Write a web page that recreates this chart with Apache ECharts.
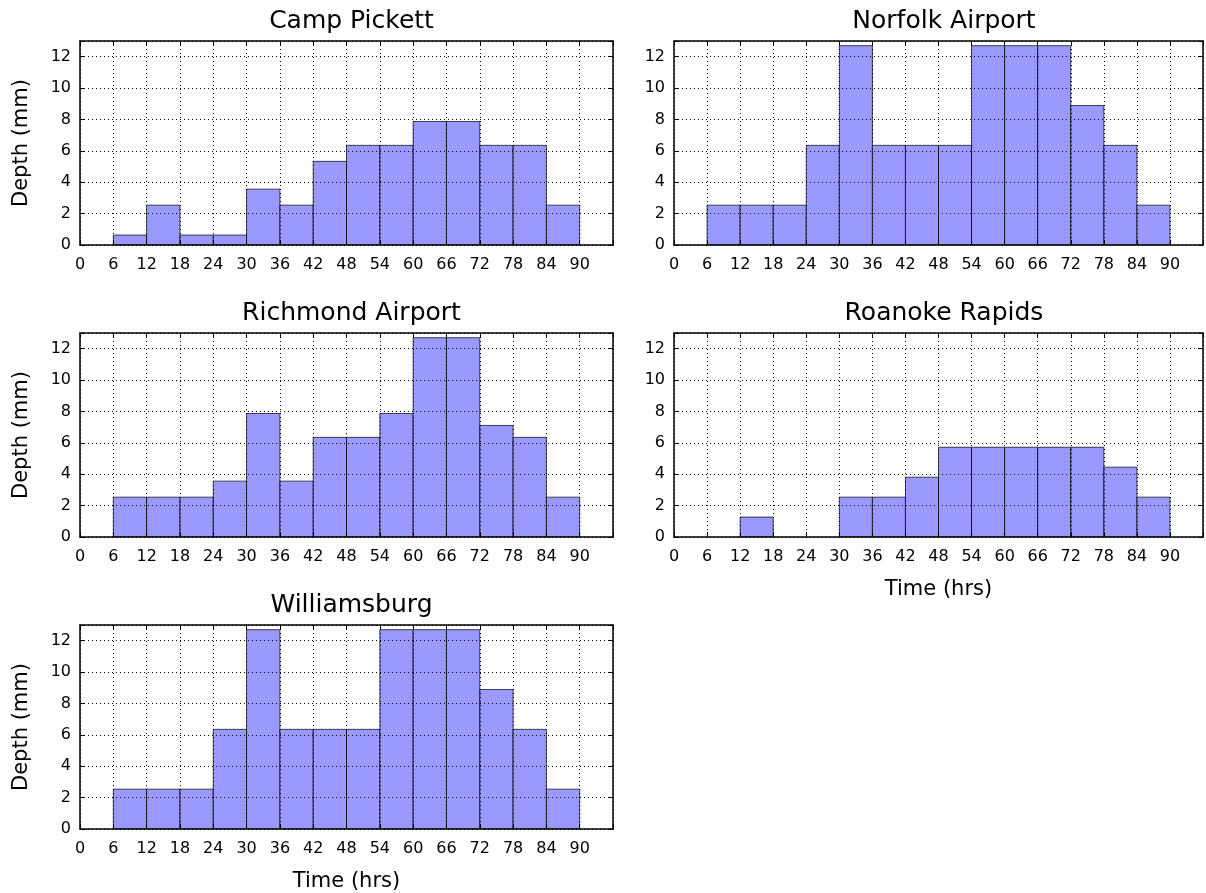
<!DOCTYPE html>
<html>
<head>
<meta charset="utf-8">
<script src="https://cdn.jsdelivr.net/npm/echarts@6/dist/echarts.min.js"></script>
<style>
html,body{margin:0;padding:0;background:#fff;}
#chart{width:1206px;height:893px;}
</style>
</head>
<body>
<div id="chart"></div>
<script>
// ---- data ----
var stations = ["Camp Pickett", "Norfolk Airport", "Richmond Airport", "Roanoke Rapids", "Williamsburg"];
var binEdges = [0, 6, 12, 18, 24, 30, 36, 42, 48, 54, 60, 66, 72, 78, 84, 90];
var campPickett     = [0, 0.635, 2.54, 0.635, 0.635, 3.56, 2.54, 5.33, 6.35, 6.35, 7.87, 7.87, 6.35, 6.35, 2.54];
var norfolkAirport  = [0, 2.54, 2.54, 2.54, 6.35, 12.7, 6.35, 6.35, 6.35, 12.7, 12.7, 12.7, 8.89, 6.35, 2.54];
var richmondAirport = [0, 2.54, 2.54, 2.54, 3.56, 7.87, 3.56, 6.35, 6.35, 7.87, 12.7, 12.7, 7.11, 6.35, 2.54];
var roanokeRapids   = [0, 0, 1.27, 0, 0, 2.54, 2.54, 3.81, 5.72, 5.72, 5.72, 5.72, 5.72, 4.45, 2.54];
var williamsburg    = [0, 2.54, 2.54, 2.54, 6.35, 12.7, 6.35, 6.35, 6.35, 12.7, 12.7, 12.7, 8.89, 6.35, 2.54];
var allValues = [campPickett, norfolkAirport, richmondAirport, roanokeRapids, williamsburg];
var xTickLabels = ["0","6","12","18","24","30","36","42","48","54","60","66","72","78","84","90"];
var yTickLabels = ["0","2","4","6","8","10","12"];
var xLabel = "Time (hrs)";
var yLabel = "Depth (mm)";

// ---- layout ----
var FONT = "DejaVu Sans";
var grids = [
  {left: 80,  top: 41,  width: 533, height: 204},
  {left: 674, top: 41,  width: 530, height: 204},
  {left: 80,  top: 333, width: 533, height: 204},
  {left: 674, top: 333, width: 530, height: 204},
  {left: 80,  top: 625, width: 533, height: 205}
];
var showYName = [true, false, true, false, true];
var showXName = [false, false, false, true, true];

var option = {
  animation: false,
  backgroundColor: '#fff',
  title: [], grid: [], xAxis: [], yAxis: [], series: []
};

var gridLine = {show: true, lineStyle: {color: '#000', type: [1, 3], width: 1}};

stations.forEach(function (name, i) {
  var g = grids[i];
  option.grid.push({left: g.left, top: g.top, width: g.width, height: g.height, containLabel: false});
  option.title.push({
    text: name, left: g.left + g.width / 2, top: g.top - 37, textAlign: 'center',
    textStyle: {fontFamily: FONT, fontSize: 25, fontWeight: 'normal', color: '#000'}
  });
  var xLabelFmt = function (v) { var s = String(v); return xTickLabels.indexOf(s) >= 0 ? s : ''; };
  var yLabelFmt = function (v) { var s = String(v); return yTickLabels.indexOf(s) >= 0 ? s : ''; };
  // bottom x
  option.xAxis.push({
    type: 'value', gridIndex: i, min: 0, max: 96, interval: 6, position: 'bottom', z: 5,
    name: showXName[i] ? xLabel : '', nameLocation: 'middle', nameGap: 42,
    nameTextStyle: {fontFamily: FONT, fontSize: 21, color: '#000'},
    axisLine: {show: true, onZero: false, lineStyle: {color: '#000', width: 1.5}},
    axisTick: {show: true, inside: true, length: 5, lineStyle: {color: '#000', width: 1}},
    axisLabel: {show: true, fontFamily: FONT, fontSize: 16, color: '#000', margin: 12, formatter: xLabelFmt},
    splitLine: gridLine
  });
  // top x (frame + ticks)
  option.xAxis.push({
    type: 'value', gridIndex: i, min: 0, max: 96, interval: 6, position: 'top', z: 5,
    axisLine: {show: true, onZero: false, lineStyle: {color: '#000', width: 1.5}},
    axisTick: {show: true, inside: true, length: 5, lineStyle: {color: '#000', width: 1}},
    axisLabel: {show: false}, splitLine: {show: false}
  });
  // left y
  option.yAxis.push({
    type: 'value', gridIndex: i, min: 0, max: 13, interval: 2, position: 'left', z: 5,
    name: showYName[i] ? yLabel : '', nameLocation: 'middle', nameGap: 48, nameRotate: 90,
    nameTextStyle: {fontFamily: FONT, fontSize: 21, color: '#000'},
    axisLine: {show: true, onZero: false, lineStyle: {color: '#000', width: 1.5}},
    axisTick: {show: true, inside: true, length: 5, lineStyle: {color: '#000', width: 1}},
    axisLabel: {show: true, fontFamily: FONT, fontSize: 16, color: '#000', margin: 9, formatter: yLabelFmt},
    splitLine: gridLine
  });
  // right y (frame + ticks)
  option.yAxis.push({
    type: 'value', gridIndex: i, min: 0, max: 13, interval: 2, position: 'right', z: 5,
    axisLine: {show: true, onZero: false, lineStyle: {color: '#000', width: 1.5}},
    axisTick: {show: true, inside: true, length: 5, lineStyle: {color: '#000', width: 1}},
    axisLabel: {show: false}, splitLine: {show: false}
  });

  var vals = allValues[i];
  var data = [];
  for (var k = 0; k < vals.length; k++) {
    data.push([binEdges[k], binEdges[k + 1], vals[k]]);
  }
  option.series.push({
    type: 'custom', xAxisIndex: 2 * i, yAxisIndex: 2 * i, z: 2, clip: true,
    encode: {x: [0, 1], y: 2},
    data: data,
    renderItem: function (params, api) {
      var y = api.value(2);
      if (!(y > 0)) return null;
      var p0 = api.coord([api.value(0), y]);
      var p1 = api.coord([api.value(1), 0]);
      return {
        type: 'rect',
        shape: {x: p0[0], y: p0[1], width: p1[0] - p0[0], height: p1[1] - p0[1]},
        style: {fill: '#9999ff', stroke: 'rgba(0,0,0,0.7)', lineWidth: 1}
      };
    }
  });
});

var chart = echarts.init(document.getElementById('chart'), null, {renderer: 'canvas'});
chart.setOption(option);
</script>
</body>
</html>
